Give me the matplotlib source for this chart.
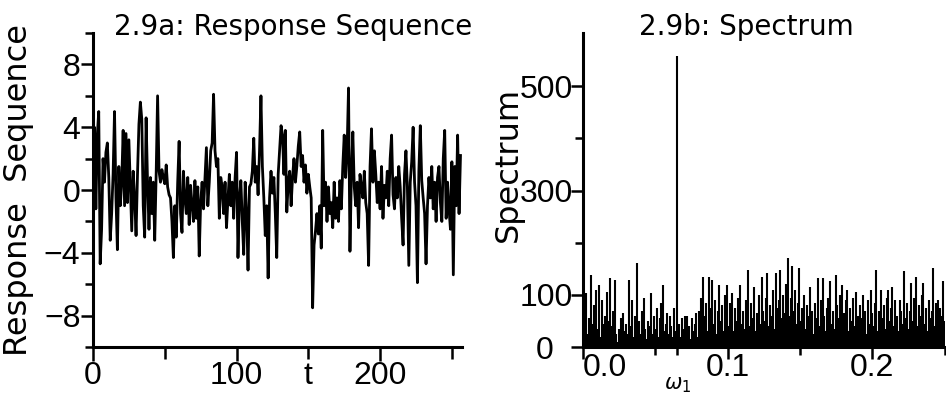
import numpy as np
import matplotlib.pyplot as plt
from matplotlib.transforms import ScaledTranslation

# response sequence, t = 0..256
resp = [1.5, 4.0, -1.2, 3.5, 5.0, -4.7, -2.5, 2.0, 0.5, 2.4,
        3.0, 0.8, -3.2, -1.5, 1.0, 5.0, -0.5, -3.8, 1.5, -1.0,
        0.5, 3.8, -1.0, 3.6, -0.8, 3.2, 0.2, -2.6, 1.2, -0.5,
        -2.9, 1.0, 4.2, 5.6, 4.5, -1.0, -3.0, 4.6, 0.5, -2.5,
        0.8, -1.5, 0.5, -3.2, 1.0, 6.0, 1.2, 0.5, 1.3, 0.8,
        0.4, 1.6, 0.2, -0.3, -0.5, -2.0, -4.3, -1.0, -3.0, 0.5,
        3.1, -1.5, -2.7, 1.2, -0.5, -1.5, 0.8, -2.2, 0.3, -1.0,
        -2.0, 0.6, -1.8, 0.2, -4.2, -0.8, 0.5, -1.2, 0.8, 2.7,
        -1.0, 0.5, 2.5, 3.0, 6.1, 2.5, 1.5, 2.0, -1.8, 0.8,
        0.2, -1.5, 0.5, -2.4, -0.6, 1.0, -1.0, 0.5, -1.8, 0.8,
        2.4, -4.3, -0.5, 0.6, -2.0, -4.1, 0.5, -1.5, -5.1, 0.2,
        0.4, 1.2, 3.3, 0.5, 1.5, -0.3, 2.5, 6.0, 1.5, -0.5,
        -2.9, -1.0, -5.6, -0.5, 1.2, -0.2, 0.8, -1.5, -4.3, 1.0,
        2.5, 4.1, 3.5, 1.0, 3.8, -1.4, 0.5, 1.2, -1.0, 0.8,
        2.0, 0.5, 1.5, 2.8, 3.7, 1.5, 2.2, 0.5, 1.6, -0.2,
        1.0, 0.2, -0.5, -7.5, -3.5, -2.6, -1.5, -2.8, -1.0, -3.7,
        3.8, -1.0, 0.5, -2.0, 0.2, -1.5, -0.8, -2.4, 0.5, -1.8,
        -0.5, -2.0, 0.6, -1.2, 1.5, 3.5, 0.8, 2.5, 6.5, -3.9,
        1.0, 3.7, 0.2, -1.0, 0.5, -2.4, 1.0, 0.2, -0.5, 1.2,
        -0.8, -1.5, -4.8, 1.5, 3.9, 0.5, 2.5, 1.0, -0.8, 0.5,
        -1.2, 1.5, -1.8, 0.3, -0.5, 1.2, -1.0, 2.0, 3.5, -0.3,
        -1.2, 0.8, -0.5, 1.5, 0.2, -1.8, -3.5, 1.0, 2.5, 0.2,
        -4.8, 0.5, 1.8, 4.0, 0.5, -1.0, -5.9, 1.2, 4.1, 0.6,
        -0.5, -1.5, -4.7, -1.0, 0.8, -0.5, 1.5, -1.2, 0.5, -2.0,
        0.8, 1.5, -0.8, -2.0, 2.0, 3.8, -1.8, 0.5, -1.2, -2.5,
        1.8, -5.4, 1.5, -1.0, 3.5, -1.5, 2.2]

# spectrum on an even frequency grid from 0 to 0.25
spec = [60, 40, 103, 25, 55, 30, 139, 45, 80, 110,
        35, 119, 20, 90, 45, 60, 30, 106, 50, 132,
        40, 70, 129, 25, 10, 35, 55, 20, 65, 30,
        45, 25, 129, 40, 90, 20, 60, 161, 30, 50,
        25, 70, 94, 35, 15, 50, 40, 103, 25, 60,
        35, 75, 20, 55, 85, 119, 30, 45, 65, 25,
        60, 40, 20, 75, 30, 558, 45, 20, 55, 35,
        60, 25, 60, 40, 15, 55, 30, 45, 65, 20,
        70, 95, 40, 135, 60, 85, 30, 135, 75, 129,
        45, 90, 25, 70, 119, 50, 80, 30, 100, 119,
        40, 85, 60, 103, 30, 75, 50, 95, 119, 45,
        70, 35, 90, 60, 148, 40, 85, 55, 116, 30,
        65, 100, 45, 135, 70, 50, 95, 142, 40, 80,
        60, 110, 35, 142, 75, 90, 148, 55, 100, 65,
        120, 171, 60, 95, 155, 70, 110, 45, 85, 152,
        50, 75, 100, 35, 80, 60, 116, 40, 70, 25,
        85, 55, 132, 40, 90, 132, 60, 30, 75, 95,
        126, 45, 70, 35, 139, 80, 55, 100, 119, 40,
        65, 90, 110, 30, 75, 50, 95, 40, 106, 60,
        35, 80, 55, 100, 70, 25, 90, 45, 110, 65,
        40, 85, 148, 30, 70, 110, 55, 80, 35, 95,
        110, 50, 75, 116, 40, 90, 60, 30, 90, 70,
        45, 145, 55, 85, 35, 70, 123, 50, 95, 135,
        40, 80, 60, 100, 123, 45, 75, 30, 90, 55,
        70, 152, 40, 85, 90, 35, 75, 60, 126, 50]

t = np.arange(len(resp))
freq = np.linspace(0, 0.25, len(spec))
omega1 = freq[int(np.argmax(spec))]

tickfont = ['Liberation Sans Narrow', 'Liberation Sans', 'DejaVu Sans']
labfont = 'DejaVu Sans'

fig = plt.figure(figsize=(9.46, 3.98), dpi=100)
ax1 = fig.add_axes([0.0983, 0.128, 0.390, 0.789])
ax2 = fig.add_axes([0.616, 0.128, 0.3827, 0.789])

for ax in (ax1, ax2):
    for s in ('top', 'right'):
        ax.spines[s].set_visible(False)
    for s in ('left', 'bottom'):
        ax.spines[s].set_linewidth(2.2)
    ax.tick_params(which='both', direction='out', width=1.8, color='black')
    ax.tick_params(which='major', length=8.5)
    ax.tick_params(which='minor', length=6)

# left panel: response sequence
ax1.plot(t, resp, color='black', lw=2.0)
ax1.set_xlim(0, 257)
ax1.set_ylim(-10, 10)
ax1.set_yticks([-8, -4, 0, 4, 8])
ax1.set_yticks([-10, -6, -2, 2, 6, 10], minor=True)
ax1.set_xticks([0, 100, 200])
ax1.set_xticks([50, 150, 250], minor=True)
ax1.tick_params(axis='y', which='major', pad=0.5)
ax1.tick_params(axis='x', which='major', length=10, pad=0)
ax1.tick_params(axis='x', which='minor', length=8.5)
for lab in ax1.get_xticklabels() + ax1.get_yticklabels():
    lab.set_fontfamily(tickfont)
    lab.set_fontsize(23)
ax1.set_ylabel('Response  Sequence', fontsize=23, family=labfont)
ax1.yaxis.set_label_coords(-0.16, 0.5)
ax1.set_xlabel('t', fontsize=23, family=tickfont)
ax1.xaxis.set_label_coords(150 / 257, -0.045)
ax1.xaxis.label.set_va('top')
ax1.text(0.542, 0.994, '2.9a: Response Sequence', transform=ax1.transAxes,
         ha='center', va='baseline', fontsize=20, family=labfont)

# right panel: spectrum
ax2.vlines(freq, 0, spec, color='black', lw=1.5)
ax2.set_xlim(0, 0.25)
ax2.set_ylim(0, 602)
ax2.set_yticks([0, 100, 300, 500])
ax2.set_yticks([200, 400], minor=True)
ax2.set_xticks([0.0, 0.1, 0.2])
ax2.set_xticklabels(['0.0', '0.1', '0.2'])
ax2.set_xticks([0.05, omega1, 0.15, 0.25], minor=True)
ax2.tick_params(axis='y', which='major', pad=-1.5)
ax2.tick_params(axis='x', which='major', pad=-4)
for lab in ax2.get_xticklabels() + ax2.get_yticklabels():
    lab.set_fontfamily(tickfont)
    lab.set_fontsize(23)
xl = ax2.get_xticklabels()
xl[0].set_ha('left')
yl = ax2.get_yticklabels()
yl[0].set_transform(yl[0].get_transform() + ScaledTranslation(-0.2, 0, fig.dpi_scale_trans))
ax2.text(omega1, -0.12, r'$\omega_1$', transform=ax2.get_xaxis_transform(),
         ha='center', va='center', fontsize=15)
ax2.set_ylabel('Spectrum', fontsize=23, family=labfont)
ax2.yaxis.set_label_coords(-0.163, 0.583)
ax2.text(0.453, 0.994, '2.9b: Spectrum', transform=ax2.transAxes,
         ha='center', va='baseline', fontsize=20, family=labfont)

fig.savefig('out.png', dpi=100)
